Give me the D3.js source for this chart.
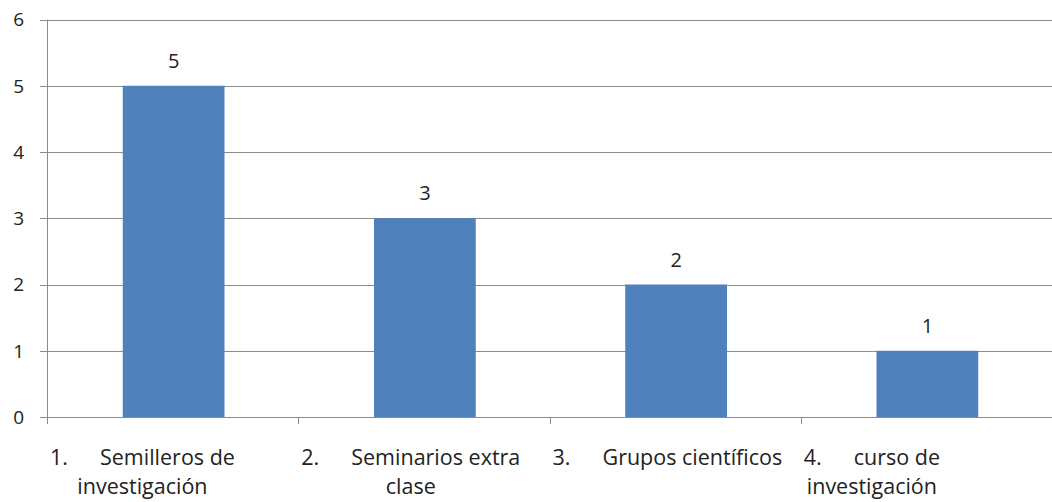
<!DOCTYPE html>
<html><head><meta charset="utf-8">
<script src="https://cdn.jsdelivr.net/npm/d3@7"></script>
<style>html,body{margin:0;padding:0;background:#fff;}</style>
</head><body>
<svg id="chart" width="1052" height="502"></svg>
<script>
const numbers = ["1.", "2.", "3.", "4."];
const labelLine1 = ["Semilleros de", "Seminarios extra", "Grupos científicos", "curso de"];
const labelLine2 = ["investigación", "clase", "", "investigación"];
const values = [5, 3, 2, 1];
const yTicks = [0, 1, 2, 3, 4, 5, 6];

const svg = d3.select("#chart");
const W = 1052, H = 502;
const m = {left: 47, right: 0, top: 19.5, bottom: 85};
const font = "'Open Sans', sans-serif";
const x = d3.scaleBand().domain(d3.range(values.length)).range([m.left, W - m.right]).padding(0);
const y = d3.scaleLinear().domain([0, 6]).range([H - m.bottom, m.top]);
const grid = "#8c8c8c";

// gridlines
svg.append("g").selectAll("line").data(yTicks).join("line")
  .attr("x1", m.left - 7).attr("x2", W - m.right)
  .attr("y1", d => Math.round(y(d)) + 0.5).attr("y2", d => Math.round(y(d)) + 0.5)
  .attr("stroke", grid).attr("stroke-width", 1);

// y tick labels
svg.append("g").selectAll("text").data(yTicks).join("text")
  .attr("x", 24).attr("y", d => y(d)).attr("dy", "0.36em")
  .attr("text-anchor", "end").attr("font-family", font).attr("font-size", 19)
  .attr("fill", "#222").text(d => d);

// bars
const bw = x.bandwidth() * 0.405;
svg.append("g").selectAll("rect").data(values).join("rect")
  .attr("x", (d, i) => x(i) + (x.bandwidth() - bw) / 2 + 1)
  .attr("width", bw)
  .attr("y", d => y(d)).attr("height", d => y(0) - y(d))
  .attr("fill", "#4F81BD");

// y axis line
svg.append("line").attr("x1", m.left + 0.5).attr("x2", m.left + 0.5)
  .attr("y1", m.top).attr("y2", y(0)).attr("stroke", grid);
// x category ticks
const cats = d3.range(values.length + 1);
svg.append("g").selectAll("line").data(cats).join("line")
  .attr("x1", d => Math.round(d < values.length ? x(d) : W - m.right) + 0.5)
  .attr("x2", d => Math.round(d < values.length ? x(d) : W - m.right) + 0.5)
  .attr("y1", y(0)).attr("y2", y(0) + 7).attr("stroke", grid);

// value labels
svg.append("g").selectAll("text").data(values).join("text")
  .attr("x", (d, i) => x(i) + x.bandwidth() / 2 + 1)
  .attr("y", d => y(d) - 18)
  .attr("text-anchor", "middle").attr("font-family", font).attr("font-size", 20)
  .attr("fill", "#222").text(d => d);

// category labels
const lg = svg.append("g").attr("font-family", font).attr("font-size", 21.5).attr("fill", "#222");
values.forEach((v, i) => {
  const x0 = x(i);
  const t = lg.append("text").attr("y", y(0) + 48);
  t.append("tspan").attr("x", x0 + 3).text(numbers[i]);
  t.append("tspan").attr("x", x0 + 53).text(labelLine1[i]);
  const bb = t.node().getBBox();
  if (labelLine2[i]) {
    lg.append("text").attr("x", bb.x + bb.width / 2).attr("y", y(0) + 77)
      .attr("text-anchor", "middle").text(labelLine2[i]);
  }
});
</script>
</body></html>
